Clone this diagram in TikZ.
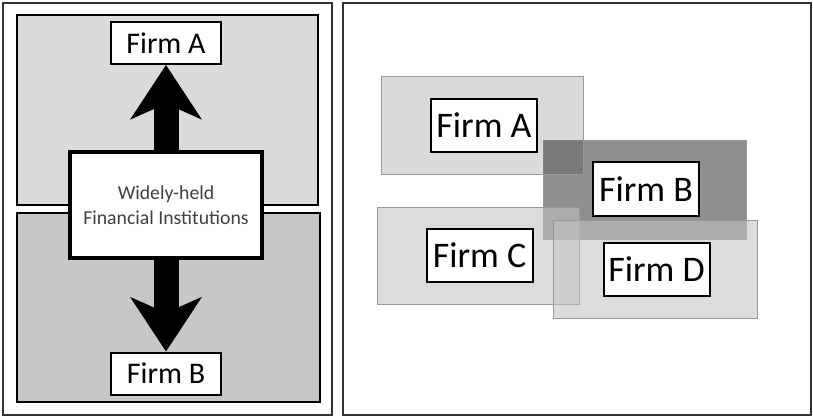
\documentclass[tikz,border=0pt]{standalone}
\usepackage{fontspec}
\setmainfont{Carlito}
\usetikzlibrary{arrows.meta}

\begin{document}
\begin{tikzpicture}[x=0.75pt,y=-0.75pt,
  firm/.style={draw,fill=white,line width=1.5pt,inner sep=0pt,
    minimum width=82.5pt,minimum height=31.5pt,font=\fontsize{22.5}{27}\selectfont},
  bigfirm/.style={firm,minimum width=79.5pt,minimum height=39.75pt,
    font=\fontsize{27}{32}\selectfont},
  panel/.style={draw=black,line width=1.5pt},
  frame/.style={draw=black!80,line width=1.5pt},
  share/.style={draw=black!40,line width=0.75pt},
  flow/.style={line width=18.75pt,
    -{Stealth[length=41pt,width=54pt,inset=12pt,line width=0pt]}}]
  \useasboundingbox (0,0) rectangle (813,417);
  % Pyramid
  \draw[frame] (3,3) rectangle (332,415);
  \filldraw[panel,fill=black!14] (17,15) rectangle (318,205);
  \filldraw[panel,fill=black!22] (17,213) rectangle (320,402);
  \node[firm] (fa) at (166,43) {Firm A};
  \node[firm] (fb) at (166,373.5) {Firm B};
  \node[draw,fill=white,line width=3pt,minimum width=144pt,minimum height=79.5pt,
    align=center,text=black!75,font=\fontsize{14.8}{18.75}\selectfont]
    (fi) at (166,205) {Widely-held\\Financial Institutions};
  \draw[flow] (fi.north) -- (fa.south);
  \draw[flow] (fi.south) -- (fb.north);
  % Cross-holdings
  \draw[frame] (343,3) rectangle (811,415);
  \filldraw[share,fill=black!44] (543,141) rectangle (746,239);
  \filldraw[share,fill=black,fill opacity=0.14] (381,77) rectangle (583,174);
  \filldraw[share,fill=black!24,fill opacity=0.57] (377,207) rectangle (579,304);
  \filldraw[share,fill=black!24,fill opacity=0.57] (553,220) rectangle (757,318);
  \node[bigfirm] (ra) at (484,125.5) {Firm A};
  \node[bigfirm] (rb) at (646,189) {Firm B};
  \node[bigfirm] (rc) at (479.5,255.5) {Firm C};
  \node[bigfirm] (rd) at (656.5,269) {Firm D};
\end{tikzpicture}
\end{document}
